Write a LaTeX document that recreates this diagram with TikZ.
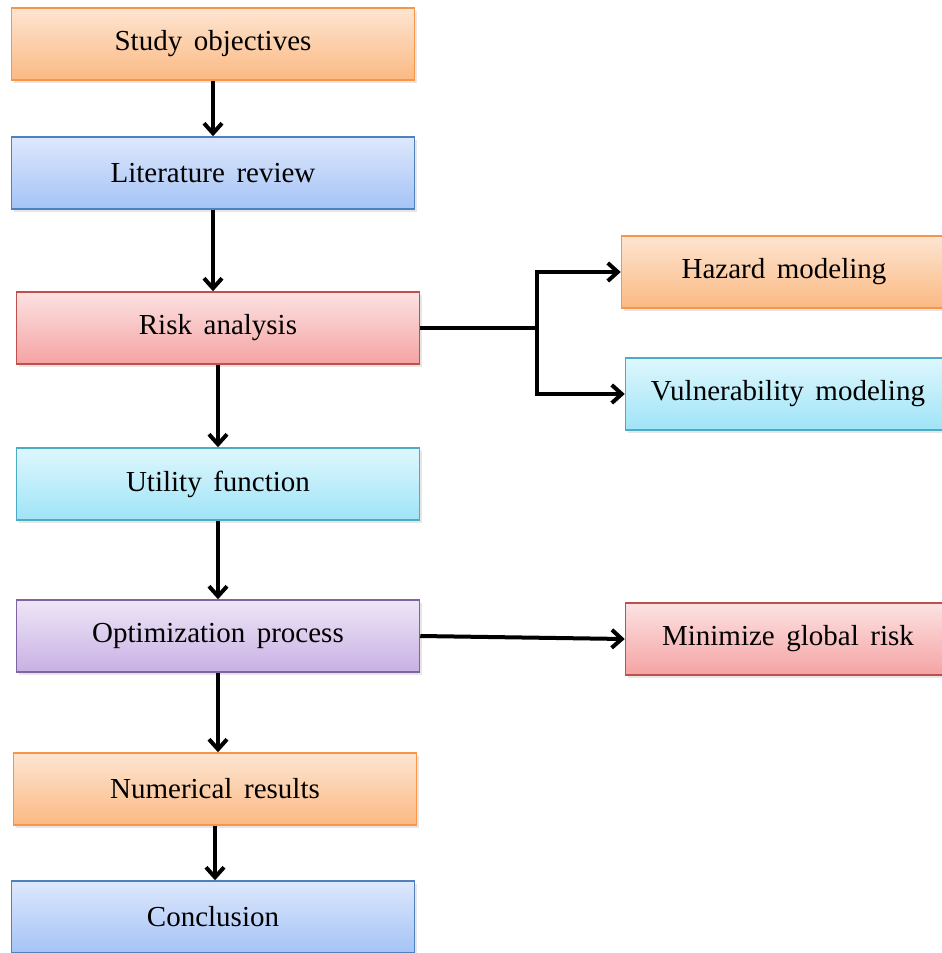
\documentclass[tikz,border=0pt]{standalone}
\usepackage{fontspec}
\setmainfont{Liberation Serif}
\usetikzlibrary{arrows.meta,shadows}
\definecolor{orangetop}{HTML}{FDE5D2}
\definecolor{orangebot}{HTML}{FBB982}
\definecolor{orangeline}{HTML}{F79646}
\definecolor{bluetop}{HTML}{DDE8FC}
\definecolor{bluebot}{HTML}{A5C3F6}
\definecolor{blueline}{HTML}{4F81BD}
\definecolor{redtop}{HTML}{FCE2E2}
\definecolor{redbot}{HTML}{F5A3A3}
\definecolor{redline}{HTML}{C0504D}
\definecolor{cyantop}{HTML}{DEF7FD}
\definecolor{cyanbot}{HTML}{9FE4F7}
\definecolor{cyanline}{HTML}{4BACC6}
\definecolor{purpletop}{HTML}{EEE6F7}
\definecolor{purplebot}{HTML}{C8B0E3}
\definecolor{purpleline}{HTML}{8064A2}
\tikzset{
  box/.style={rectangle, draw, line width=1.5pt, minimum width=403pt, minimum height=72pt,
    inner sep=0pt, font=\fontsize{29}{33}\selectfont, shading=axis,
    execute at begin node={\spaceskip=0.4em\relax},
    drop shadow={opacity=0.2, shadow xshift=2pt, shadow yshift=-3pt}},
  sidebox/.style={box, minimum width=325pt},
  orangebox/.style={draw=orangeline, top color=orangetop, bottom color=orangebot},
  bluebox/.style={draw=blueline, top color=bluetop, bottom color=bluebot},
  redbox/.style={draw=redline, top color=redtop, bottom color=redbot},
  cyanbox/.style={draw=cyanline, top color=cyantop, bottom color=cyanbot},
  purplebox/.style={draw=purpleline, top color=purpletop, bottom color=purplebot},
  link/.style={line width=4pt, -{Straight Barb[length=10pt,width=18pt,line width=4pt]}}
}
\begin{document}
\begin{tikzpicture}[x=1pt, y=-1pt]
      \useasboundingbox (0,0) rectangle (942,953);
      \path
        (213,44) node[box, orangebox] (study){Study objectives}
        (213,173) node[box, bluebox] (review){Literature review}
        (218,328) node[box, redbox] (risk){Risk analysis}
        (218,484) node[box, cyanbox] (utility){Utility function}
        (218,636) node[box, purplebox] (optim){Optimization process}
        (215,789) node[box, orangebox] (results){Numerical results}
        (213,917) node[box, bluebox] (concl){Conclusion}
        (784,272) node[sidebox, orangebox] (hazard){Hazard modeling}
        (788,394) node[sidebox, cyanbox] (vuln){Vulnerability modeling}
        (788,639) node[sidebox, redbox] (minrisk){Minimize global risk};
      \coordinate (fork) at (537,328);
      \begin{scope}[link]
        \draw (study.south) to (study.south |- review.north);
        \draw (review.south) to (review.south |- risk.north);
        \draw (risk.south) to (risk.south |- utility.north);
        \draw (utility.south) to (utility.south |- optim.north);
        \draw (optim.south) to (optim.south |- results.north);
        \draw (results.south) to (results.south |- concl.north);
        \draw (optim.east) to (minrisk.west);
        \draw[-] (risk.east) to (fork);
        \draw (fork) |- (hazard.west);
        \draw (fork) |- (vuln.west);
      \end{scope}
    \end{tikzpicture}
\end{document}
